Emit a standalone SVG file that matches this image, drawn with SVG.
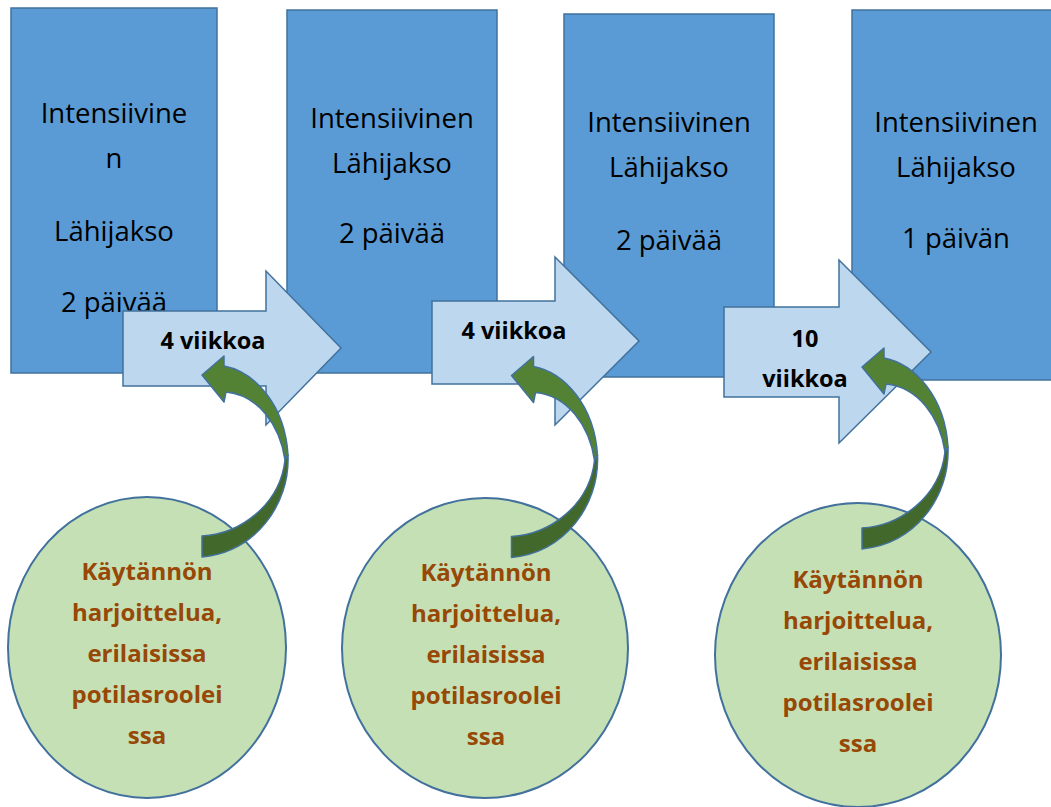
<svg xmlns="http://www.w3.org/2000/svg" width="1051" height="807" viewBox="0 0 1051 807">
<defs>
<style>
.box{fill:#5B9BD5;stroke:#41719C;stroke-width:1.5}
.blk{fill:#BDD7EE;stroke:#41719C;stroke-width:1.5}
.circ{fill:#C5E0B4;stroke:#41719C;stroke-width:2}
.cl{fill:#548235;stroke:#41719C;stroke-width:1.5;stroke-linejoin:round}
.cd{fill:#43682B;stroke:#41719C;stroke-width:1.5;stroke-linejoin:round}
.bt{font-family:"Open Sans","Liberation Sans",sans-serif;font-size:27.5px;fill:#000;text-anchor:middle}
.at{font-family:"Open Sans","Liberation Sans",sans-serif;font-size:23.5px;font-weight:bold;fill:#000;text-anchor:middle}
.ct{font-family:"Open Sans","Liberation Sans",sans-serif;font-size:24px;font-weight:bold;fill:#974806;text-anchor:middle}
</style>
<g id="curved">
<path class="cd" d="M288,455 C290,505 255,552 202,557 L202,536 C240,534 280,505 285,460 Z"/>
<path class="cl" d="M202,375 L224,356 L224,366 C255,372 285,405 288,455 L285,460 C280,425 258,395 226,392 L224,402 Z"/>
</g>
</defs>
<g id="box1"><rect class="box" x="11" y="8" width="206" height="365"/>
<text class="bt" x="114" y="123">Intensiivine</text><text class="bt" x="114" y="168">n</text><text class="bt" x="114" y="241">Lähijakso</text><text class="bt" x="114" y="312">2 päivää</text></g>
<g id="box2"><rect class="box" x="287" y="10" width="210" height="363"/>
<text class="bt" x="392" y="128">Intensiivinen</text><text class="bt" x="392" y="173">Lähijakso</text><text class="bt" x="392" y="243">2 päivää</text></g>
<g id="box3"><rect class="box" x="564" y="14" width="210" height="363"/>
<text class="bt" x="669" y="132">Intensiivinen</text><text class="bt" x="669" y="177">Lähijakso</text><text class="bt" x="669" y="250">2 päivää</text></g>
<g id="box4"><rect class="box" x="852" y="10" width="210" height="370"/>
<text class="bt" x="956" y="132">Intensiivinen</text><text class="bt" x="956" y="177">Lähijakso</text><text class="bt" x="956" y="248">1 päivän</text></g>
<g id="circle1"><ellipse class="circ" cx="147" cy="647.5" rx="139" ry="150.5"/>
<text class="ct" x="147" y="580">Käytännön</text><text class="ct" x="147" y="621">harjoittelua,</text><text class="ct" x="147" y="662">erilaisissa</text><text class="ct" x="147" y="703">potilasroolei</text><text class="ct" x="147" y="744">ssa</text></g>
<g id="circle2"><ellipse class="circ" cx="485" cy="648" rx="143" ry="150"/>
<text class="ct" x="486" y="581">Käytännön</text><text class="ct" x="486" y="622">harjoittelua,</text><text class="ct" x="486" y="663">erilaisissa</text><text class="ct" x="486" y="704">potilasroolei</text><text class="ct" x="486" y="745">ssa</text></g>
<g id="circle3"><ellipse class="circ" cx="858" cy="655" rx="143" ry="152"/>
<text class="ct" x="858" y="588">Käytännön</text><text class="ct" x="858" y="629">harjoittelua,</text><text class="ct" x="858" y="670">erilaisissa</text><text class="ct" x="858" y="711">potilasroolei</text><text class="ct" x="858" y="752">ssa</text></g>
<g id="connectors">
<g id="arrow1"><path class="blk" d="M123,311 L266,311 L266,271 L341,348 L266,425 L266,386 L123,386 Z"/><text class="at" x="213" y="349">4 viikkoa</text></g>
<g id="arrow2"><path class="blk" d="M432,301 L555,301 L555,257 L639,341 L555,425 L555,384 L432,384 Z"/><text class="at" x="514" y="339">4 viikkoa</text></g>
<g id="arrow3"><path class="blk" d="M724,307 L839,307 L839,260 L931,352 L839,443 L839,397 L724,397 Z"/><text class="at" x="805" y="347">10</text><text class="at" x="805" y="387">viikkoa</text></g>
<use href="#curved"/>
<use href="#curved" transform="translate(309.5,0.5)"/>
<use href="#curved" transform="translate(660,-8)"/>
</g>
</svg>
